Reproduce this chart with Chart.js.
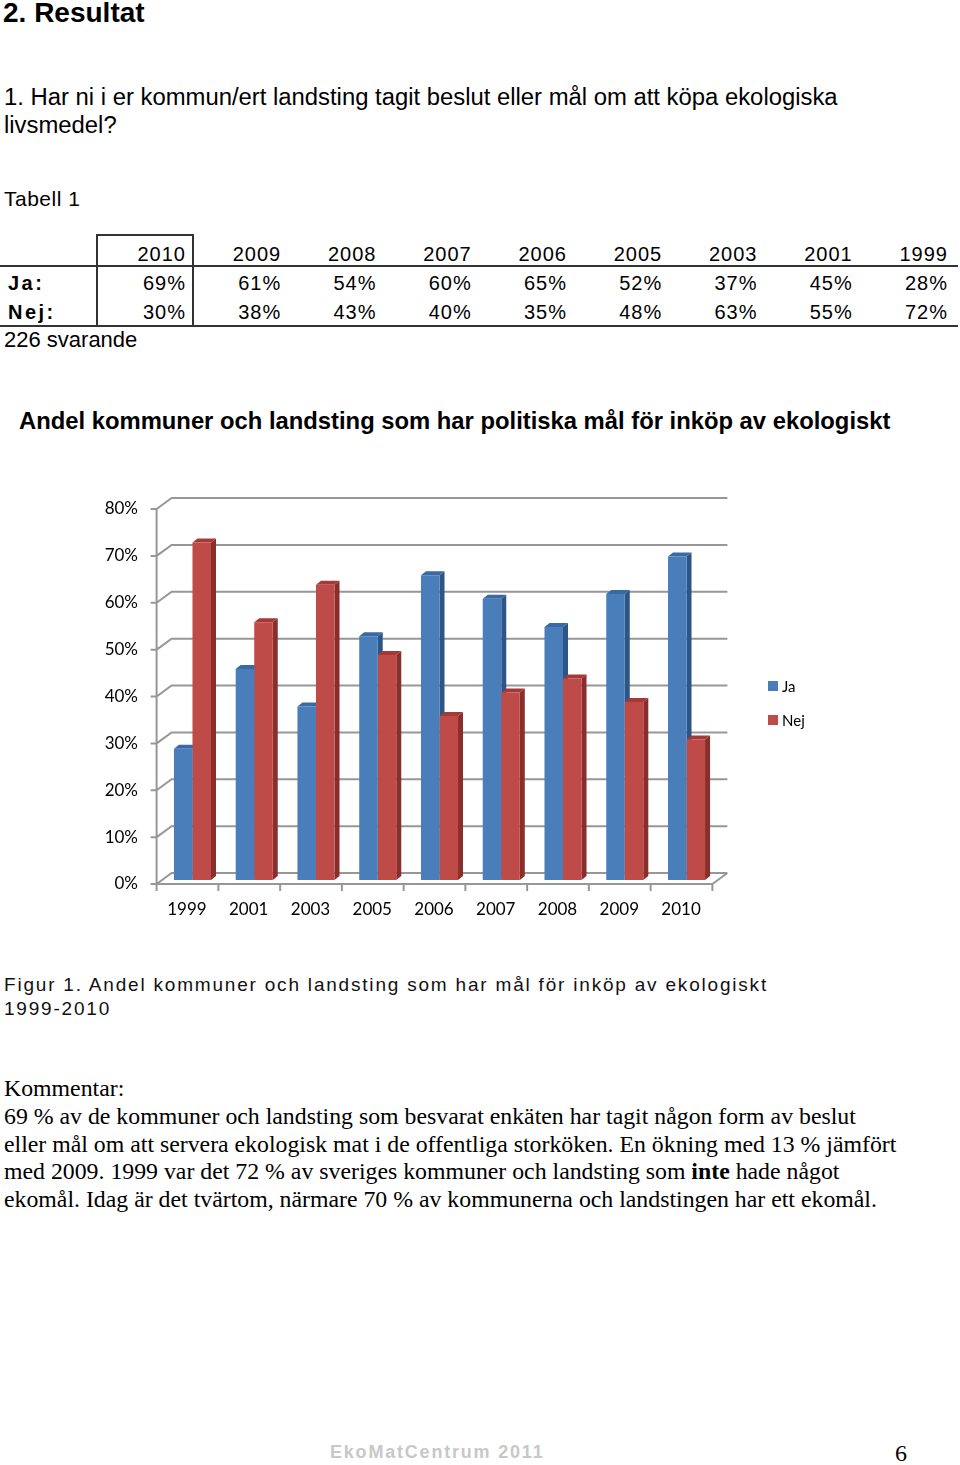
<!DOCTYPE html>
<html>
<head>
<meta charset="utf-8">
<script src="https://cdn.jsdelivr.net/npm/chart.js@4.4.1/dist/chart.umd.min.js"></script>
<style>
  body { margin: 0; background: #fff; }
  #page { position: relative; width: 960px; height: 1465px; overflow: hidden; font-family: "Liberation Sans", Arial, sans-serif; color: #000; }
  .t { position: absolute; white-space: nowrap; }
  .num { position: absolute; text-align: right; width: 90px; font-size: 20px; line-height: 20px; letter-spacing: 1px; }
  .hl { position: absolute; background: #333; height: 2px; }
  .vl { position: absolute; background: #333; width: 2px; }
  .serif { font-family: "Liberation Serif", "Times New Roman", serif; }
  .leg { position: absolute; font-family: Lato, sans-serif; font-size: 15px; line-height: 15px; }
  .sw { position: absolute; width: 10px; height: 10px; }
</style>
</head>
<body>
<div id="page">
  <div class="t" style="left:3px;top:-1px;font-size:28px;line-height:28px;font-weight:bold;">2. Resultat</div>
  <div class="t" style="left:4px;top:83px;font-size:23.85px;line-height:28px;">1. Har ni i er kommun/ert landsting tagit beslut eller mål om att köpa ekologiska<br>livsmedel?</div>
  <div class="t" style="left:4px;top:188px;font-size:21px;line-height:21px;letter-spacing:0.5px;">Tabell 1</div>

  <div id="table"></div>
  <div class="t" style="left:4px;top:329px;font-size:22px;line-height:22px;">226 svarande</div>

  <div class="t" style="left:19px;top:409px;font-size:23.8px;line-height:23.8px;font-weight:bold;">Andel kommuner och landsting som har politiska mål för inköp av ekologiskt</div>

  <canvas id="chart" width="960" height="450" style="position:absolute;left:0;top:480px;"></canvas>
  <div class="sw" style="left:768px;top:681px;background:#4A7EBB;"></div>
  <div class="leg" style="left:782px;top:679px;">Ja</div>
  <div class="sw" style="left:768px;top:715px;background:#BE4B48;"></div>
  <div class="leg" style="left:782px;top:713px;">Nej</div>

  <div class="t" style="left:4px;top:973px;font-size:19px;line-height:24px;letter-spacing:1.8px;color:#111;">Figur 1. Andel kommuner och landsting som har mål för inköp av ekologiskt<br>1999-2010</div>

  <div class="t serif" style="left:4px;top:1075px;font-size:23.8px;line-height:27.75px;">Kommentar:<br>69 % av de kommuner och landsting som besvarat enkäten har tagit någon form av beslut<br>eller mål om att servera ekologisk mat i de offentliga storköken. En ökning med 13 % jämfört<br>med 2009. 1999 var det 72 % av sveriges kommuner och landsting som <b>inte</b> hade något<br>ekomål. Idag är det tvärtom, närmare 70 % av kommunerna och landstingen har ett ekomål.</div>

  <div class="t" style="left:330px;top:1443px;font-size:18px;line-height:18px;font-weight:bold;letter-spacing:1.8px;color:#c8c8c8;">EkoMatCentrum 2011</div>
  <div class="t serif" style="left:895px;top:1441px;font-size:24px;line-height:24px;">6</div>
</div>

<script>
// data (chronological order, as in the chart)
const years = ['1999', '2001', '2003', '2005', '2006', '2007', '2008', '2009', '2010'];
const ja = [28, 45, 37, 52, 65, 60, 54, 61, 69];
const nej = [72, 55, 63, 48, 35, 40, 43, 38, 30];

// table runs newest first
const table = document.getElementById('table');
let html = '';
const cols = years.slice().reverse();
const jaRev = ja.slice().reverse();
const nejRev = nej.slice().reverse();
cols.forEach(function (yr, i) {
    const right = 186 + i * 95.25;
    html += '<div class="num" style="left:' + (right - 90) + 'px;top:244px;">' + yr + '</div>';
    html += '<div class="num" style="left:' + (right - 90) + 'px;top:273px;">' + jaRev[i] + '%</div>';
    html += '<div class="num" style="left:' + (right - 90) + 'px;top:302px;">' + nejRev[i] + '%</div>';
});
html += '<div class="t" style="left:8px;top:273px;font-size:20px;line-height:20px;font-weight:bold;letter-spacing:2.5px;">Ja:</div>';
html += '<div class="t" style="left:8px;top:302px;font-size:20px;line-height:20px;font-weight:bold;letter-spacing:2.5px;">Nej:</div>';
html += '<div class="hl" style="left:0;top:265px;width:958px;"></div>';
html += '<div class="hl" style="left:0;top:325px;width:958px;"></div>';
html += '<div class="hl" style="left:97px;top:234px;width:97px;"></div>';
html += '<div class="vl" style="left:96px;top:234px;height:92px;"></div>';
html += '<div class="vl" style="left:192px;top:234px;height:92px;"></div>';
table.innerHTML = html;

/*               3D look: walls, floor and bar sides                       */
const wall3d = {
    id: 'wall3d',
    beforeDatasetsDraw(chart) {
        const ctx = chart.ctx;
        const a = chart.chartArea;
        const x = chart.scales.x, y = chart.scales.y;
        const fx = a.left - 5, bx = a.left + 10, rx = a.right + 10, frx = a.right - 5;
        ctx.save();
        ctx.strokeStyle = '#979797';
        ctx.lineWidth = 2;
        ctx.beginPath();
        y.ticks.forEach(function (t) {
            const py = y.getPixelForValue(t.value);
            ctx.moveTo(fx - 6, py + 4);
            ctx.lineTo(fx, py + 4);
            ctx.lineTo(bx, py - 7);
            ctx.lineTo(rx, py - 7);
        });
        ctx.moveTo(fx, y.getPixelForValue(y.max) + 4);
        ctx.lineTo(fx, a.bottom + 4);
        ctx.lineTo(frx, a.bottom + 4);
        ctx.lineTo(rx, a.bottom - 7);
        const n = x.ticks.length;
        for (let i = 0; i <= n; i++) {
            const px = fx + i * (a.right - a.left) / n;
            ctx.moveTo(px, a.bottom + 4);
            ctx.lineTo(px, a.bottom + 11);
        }
        ctx.stroke();

        const sides = [['#2E5587', '#3A6AA3'], ['#8A2E2C', '#A33A37']];
        const dx = 5, dy = -4;
        for (let c = 0; c < n; c++) {
            chart.data.datasets.forEach(function (ds, di) {
                const bar = chart.getDatasetMeta(di).data[c];
                const l = bar.x - bar.width / 2, r = bar.x + bar.width / 2;
                ctx.fillStyle = sides[di][0];
                ctx.beginPath();
                ctx.moveTo(r, bar.y);
                ctx.lineTo(r + dx, bar.y + dy);
                ctx.lineTo(r + dx, bar.base + dy);
                ctx.lineTo(r, bar.base);
                ctx.closePath();
                ctx.fill();
                ctx.fillStyle = sides[di][1];
                ctx.beginPath();
                ctx.moveTo(l, bar.y);
                ctx.lineTo(l + dx, bar.y + dy);
                ctx.lineTo(r + dx, bar.y + dy);
                ctx.lineTo(r, bar.y);
                ctx.closePath();
                ctx.fill();
            });
        }
        ctx.restore();
    }
};

Chart.defaults.font.family = 'Lato, "Open Sans", sans-serif';
Chart.defaults.color = '#000';

var ctx = document.getElementById('chart').getContext('2d');
var chart = new Chart(ctx, {
    type: 'bar',
    data: {
        labels: years,
        datasets: [
            { label: 'Ja', data: ja, backgroundColor: '#4A7EBB' },
            { label: 'Nej', data: nej, backgroundColor: '#BE4B48' }
        ]
    },
    options: {
        responsive: false,
        animation: false,
        devicePixelRatio: 1,
        layout: { padding: { left: 101.6, right: 242.6, top: 25, bottom: 10 } },
        datasets: { bar: { barPercentage: 1, categoryPercentage: 0.6 } },
        plugins: { legend: { display: false }, tooltip: { enabled: false } },
        scales: {
            x: {
                grid: { display: false, drawTicks: false },
                border: { display: false },
                ticks: { font: { size: 17 }, padding: 19, labelOffset: -5.5, maxRotation: 0 },
                afterFit: function (s) { s.height = 40; s.paddingLeft = 0; s.paddingRight = 0; }
            },
            y: {
                min: 0,
                max: 80,
                grid: { display: false, drawTicks: false },
                border: { display: false },
                ticks: {
                    stepSize: 10,
                    font: { size: 17 },
                    padding: 23.6,
                    labelOffset: 4,
                    callback: function (v) { return v + '%'; }
                },
                afterFit: function (s) { s.width = 60; s.paddingTop = 0; s.paddingBottom = 0; }
            }
        }
    },
    plugins: [wall3d]
});
</script>
</body>
</html>
